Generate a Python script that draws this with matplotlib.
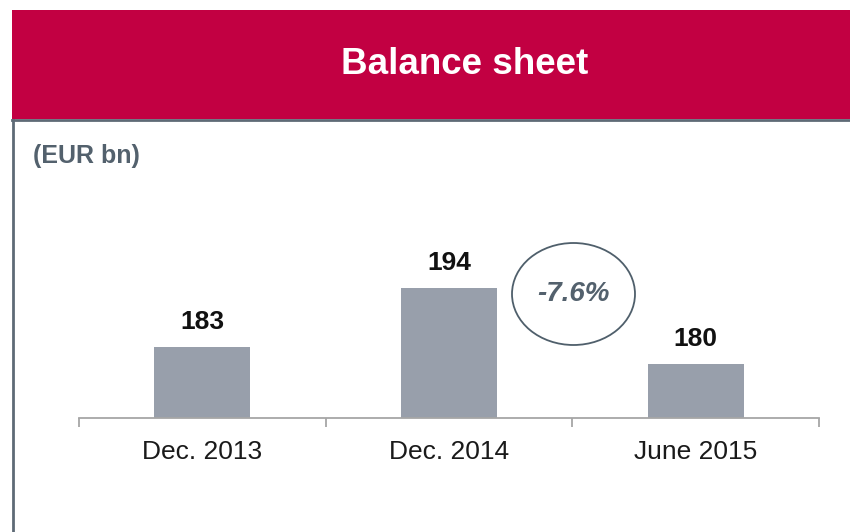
import matplotlib
matplotlib.use("Agg")
import matplotlib.pyplot as plt
from matplotlib.patches import Rectangle, Ellipse
from matplotlib.lines import Line2D

categories = ["Dec. 2013", "Dec. 2014", "June 2015"]
values = [183, 194, 180]
change_label = "-7.6%"
title = "Balance sheet"
unit_label = "(EUR bn)"

plt.rcParams['font.family'] = ['Liberation Sans', 'DejaVu Sans']

W, H = 850, 532
fig = plt.figure(figsize=(W / 100, H / 100), dpi=100)
fig.patch.set_facecolor("white")

def fx(px):
    return px / W

def fy(py):
    return 1 - py / H

# Header band
fig.add_artist(Rectangle((fx(12), fy(119)), fx(850) - fx(12), fy(10) - fy(119),
                         transform=fig.transFigure, facecolor="#C20042",
                         edgecolor="none", zorder=0))
fig.add_artist(Line2D([fx(12), 1], [fy(120), fy(120)], transform=fig.transFigure,
                      color="#5E6A76", lw=2))
fig.add_artist(Line2D([fx(13), fx(13)], [fy(120), 0], transform=fig.transFigure,
                      color="#5E6A76", lw=2))
fig.text(fx(465), fy(65), title, ha="center", va="center", color="white",
         fontsize=26.5, fontweight="bold")
fig.text(fx(33), fy(156), unit_label, ha="left", va="center", color="#53616D",
         fontsize=18, fontweight="bold")

# Axes
ax = fig.add_axes([fx(79), 1 - 418 / H, (819 - 79) / W, 163 / H])
x = list(range(len(categories)))
bars = ax.bar(x, values, width=0.39, color="#989FAB", zorder=2)
ax.set_xlim(-0.5, len(categories) - 0.5)
ax.set_ylim(170, 200)
for s in ["top", "right", "left"]:
    ax.spines[s].set_visible(False)
ax.spines["bottom"].set_color("#A6A6A6")
ax.spines["bottom"].set_linewidth(1.3)
ax.set_yticks([])
ax.set_xticks(x)
ax.set_xticklabels(categories, fontsize=19, color="#1A1A1A")
ax.tick_params(axis="x", which="major", length=0, pad=16)
ax.set_xticks([i - 0.5 for i in range(len(categories) + 1)], minor=True)
ax.tick_params(axis="x", which="minor", length=6.5, width=1.3, color="#A6A6A6",
               direction="out")
ax.patch.set_alpha(0)

for xi, v in zip(x, values):
    ax.annotate(f"{v}", (xi, v), xytext=(0, 13), textcoords="offset points",
                ha="center", va="baseline", fontsize=19, fontweight="bold",
                color="#111111")

# Change ellipse
fig.add_artist(Ellipse((fx(573.5), fy(294)), 123 / W, 102 / H,
                       transform=fig.transFigure, facecolor="none",
                       edgecolor="#4F5F6B", lw=1.3))
fig.text(fx(573.5), fy(294), change_label, ha="center", va="center",
         fontsize=20, fontweight="bold", fontstyle="italic", color="#53616D")

fig.savefig("out.png", dpi=100)
